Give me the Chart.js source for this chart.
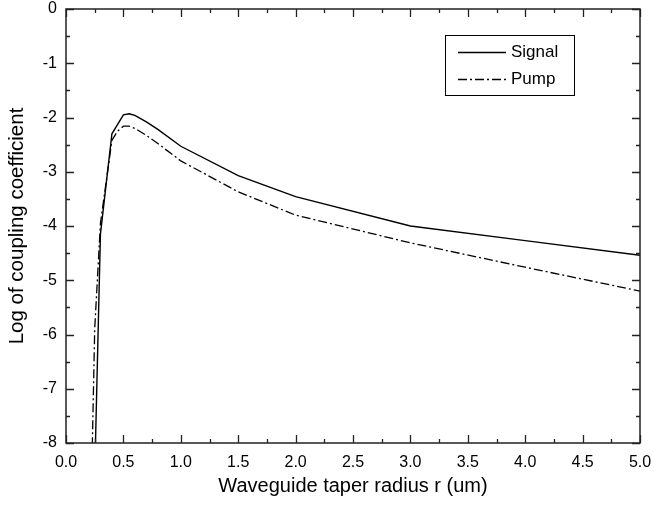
<!DOCTYPE html>
<html>
<head>
<meta charset="utf-8">
<script src="https://cdn.jsdelivr.net/npm/chart.js@4"></script>
<style>
  html, body { margin: 0; padding: 0; background: #fff; }
  #wrap { width: 654px; height: 505px; }
</style>
</head>
<body>
<div id="wrap"><canvas id="c" width="654" height="505"></canvas></div>
<script>
// radius (um) and log of coupling coefficient
const signalR   = [0.25, 0.3, 0.4, 0.5, 0.55, 0.6, 0.7, 0.8, 1.0, 1.5, 2.0, 3.0, 4.0, 5.0];
const signalLog = [-8.6, -4.15, -2.3, -1.95, -1.93, -1.96, -2.08, -2.22, -2.53, -3.07, -3.46, -4.0, -4.27, -4.54];

const pumpR   = [0.22, 0.25, 0.3, 0.4, 0.45, 0.5, 0.55, 0.6, 0.7, 0.8, 1.0, 1.5, 2.0, 3.0, 4.0, 5.0];
const pumpLog = [-9.0, -5.9, -3.95, -2.42, -2.25, -2.16, -2.16, -2.2, -2.33, -2.48, -2.8, -3.37, -3.8, -4.31, -4.76, -5.2];

const xTicks = [0, 0.5, 1, 1.5, 2, 2.5, 3, 3.5, 4, 4.5, 5];
const yTicks = [-8, -7, -6, -5, -4, -3, -2, -1, 0];

const FONT = '"Liberation Sans", Arial, sans-serif';

const toPoints = (xs, ys) => xs.map((x, i) => ({ x, y: ys[i] }));

// cadre + graduations vers l'intérieur (majeures et mineures)
const frameTicks = {
    id: "frameTicks",
    afterDraw(chart) {
        const { ctx, chartArea: a, scales } = chart;
        ctx.save();
        ctx.strokeStyle = "#222";
        ctx.lineWidth = 1.5;
        ctx.strokeRect(a.left, a.top, a.right - a.left, a.bottom - a.top);
        ctx.lineWidth = 1.3;
        ctx.beginPath();
        for (let v = 0; v <= 5.0001; v += 0.25) {
            const px = Math.round(scales.x.getPixelForValue(v)) + 0.5;
            const len = Math.abs(v / 0.5 - Math.round(v / 0.5)) < 1e-6 ? 8 : 4;
            ctx.moveTo(px, a.bottom); ctx.lineTo(px, a.bottom - len);
            ctx.moveTo(px, a.top); ctx.lineTo(px, a.top + len);
        }
        for (let v = -8; v <= 0.0001; v += 0.5) {
            const py = Math.round(scales.y.getPixelForValue(v)) + 0.5;
            const len = Math.abs(v - Math.round(v)) < 1e-6 ? 8 : 4;
            ctx.moveTo(a.left, py); ctx.lineTo(a.left + len, py);
            ctx.moveTo(a.right, py); ctx.lineTo(a.right - len, py);
        }
        ctx.stroke();

        // légende encadrée
        const bx = 445, by = 35, bw = 129, bh = 60;
        ctx.lineWidth = 1;
        ctx.strokeStyle = "#000";
        ctx.strokeRect(bx + 0.5, by + 0.5, bw, bh);
        ctx.font = "17px " + FONT;
        ctx.fillStyle = "#000";
        ctx.textBaseline = "middle";
        const rows = [52, 79];
        chart.data.datasets.forEach((ds, i) => {
            const y = rows[i] + 0.5;
            ctx.setLineDash(ds.borderDash || []);
            ctx.lineWidth = ds.borderWidth;
            ctx.beginPath();
            ctx.moveTo(458, y); ctx.lineTo(506, y);
            ctx.stroke();
            ctx.setLineDash([]);
            ctx.fillText(ds.label, 511, rows[i]);
        });
        ctx.restore();
    }
};

new Chart(document.getElementById("c"), {
    type: "scatter",
    data: {
        datasets: [
            {
                label: "Signal",
                data: toPoints(signalR, signalLog),
                showLine: true,
                borderColor: "#000",
                borderWidth: 1.4,
                pointRadius: 0,
                tension: 0
            },
            {
                label: "Pump",
                data: toPoints(pumpR, pumpLog),
                showLine: true,
                borderColor: "#000",
                borderWidth: 1.3,
                borderDash: [9, 3, 2, 3],
                pointRadius: 0,
                tension: 0
            }
        ]
    },
    options: {
        responsive: false,
        animation: false,
        layout: { padding: { left: 0, top: 9, right: 14, bottom: 0 } },
        plugins: {
            legend: { display: false },
            tooltip: { enabled: false }
        },
        scales: {
            x: {
                type: "linear",
                min: 0,
                max: 5,
                afterBuildTicks: s => { s.ticks = xTicks.map(v => ({ value: v })); },
                afterFit: s => { s.height = 62; s.paddingLeft = 0; s.paddingRight = 0; },
                grid: { display: false, drawTicks: false },
                border: { display: false },
                ticks: {
                    padding: 10,
                    color: "#000",
                    font: { family: FONT, size: 16 },
                    maxRotation: 0,
                    callback: v => Number(v).toFixed(1)
                },
                title: {
                    display: true,
                    text: "Waveguide taper radius r (um)",
                    color: "#000",
                    font: { family: FONT, size: 20 },
                    padding: { top: 0, bottom: 7 }
                }
            },
            y: {
                type: "linear",
                min: -8,
                max: 0,
                afterBuildTicks: s => { s.ticks = yTicks.map(v => ({ value: v })); },
                afterFit: s => { s.width = 66; s.paddingTop = 0; s.paddingBottom = 0; },
                grid: { display: false, drawTicks: false },
                border: { display: false },
                ticks: {
                    padding: 9,
                    color: "#000",
                    font: { family: FONT, size: 16 },
                    callback: v => String(v)
                },
                title: {
                    display: true,
                    text: "Log of coupling coefficient",
                    color: "#000",
                    font: { family: FONT, size: 20.5 },
                    padding: { top: 5, bottom: 0 }
                }
            }
        }
    },
    plugins: [frameTicks]
});
</script>
</body>
</html>
